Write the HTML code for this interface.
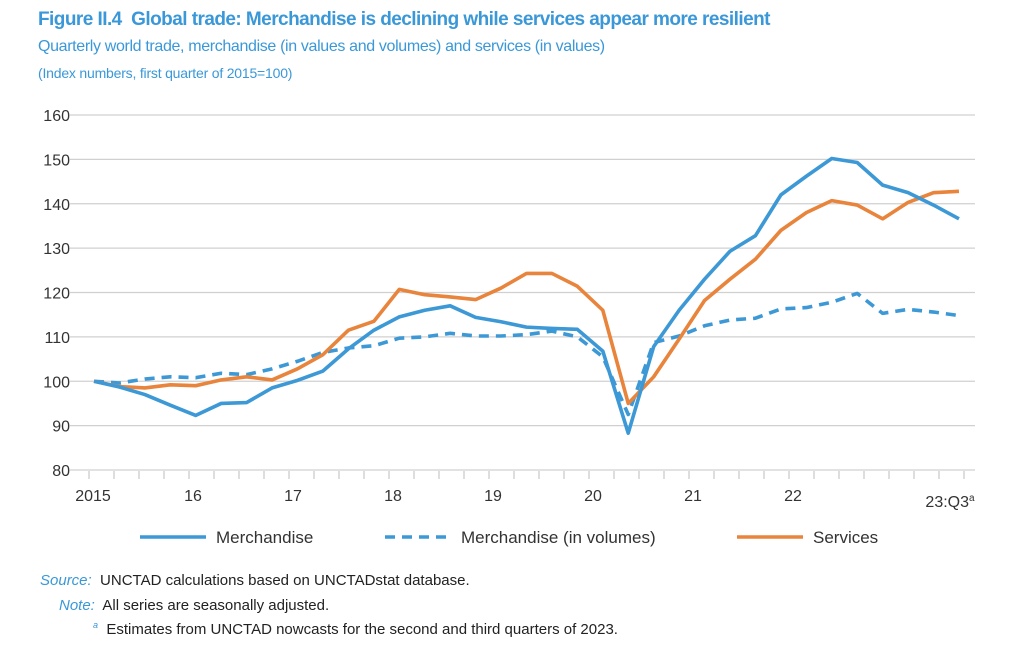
<!DOCTYPE html>
<html><head><meta charset="utf-8"><style>
body{margin:0;width:1036px;height:656px;background:#fff;font-family:"Liberation Sans",sans-serif;overflow:hidden;position:relative}
.t{position:absolute;white-space:nowrap}
</style></head><body>
<div class="t" style="left:38px;top:9px;font-size:19px;font-weight:bold;color:#3a98d8;letter-spacing:-0.55px">Figure II.4&nbsp; Global trade: Merchandise is declining while services appear more resilient</div>
<div class="t" style="left:38px;top:38px;font-size:16px;color:#3a98d8;letter-spacing:-0.35px">Quarterly world trade, merchandise (in values and volumes) and services (in values)</div>
<div class="t" style="left:38px;top:65px;font-size:14px;color:#3a98d8;letter-spacing:-0.2px">(Index numbers, first quarter of 2015=100)</div>
<svg id="chart" width="1036" height="560" style="position:absolute;left:0;top:0"></svg>
<div class="t" style="left:40px;top:572px;font-size:15px;color:#222"><i style="color:#3a98d8">Source:</i>&nbsp; UNCTAD calculations based on UNCTADstat database.</div>
<div class="t" style="left:59px;top:597px;font-size:15px;color:#222"><i style="color:#3a98d8">Note:</i>&nbsp; All series are seasonally adjusted.</div>
<div class="t" style="left:93px;top:620px;font-size:15px;color:#222"><sup style="font-size:9px;color:#3a98d8;font-style:italic">a</sup>&nbsp; Estimates from UNCTAD nowcasts for the second and third quarters of 2023.</div>
<script>
const yTicks=[80,90,100,110,120,130,140,150,160];
const xLabels=["2015","16","17","18","19","20","21","22"];
const merch=[100,98.7,97,94.6,92.3,95,95.2,98.5,100.2,102.3,107.3,111.5,114.5,116,117,114.4,113.4,112.2,111.9,111.7,106.8,88.3,107.8,116,123,129.3,132.8,142,146.2,150.2,149.3,144.2,142.5,139.7,136.6];
const volumes=[100,99.6,100.5,101,100.8,101.8,101.5,102.8,104.5,106.5,107.5,108,109.7,110,110.8,110.2,110.2,110.5,111.3,110,105.5,92.5,108.7,110.2,112.5,113.8,114.2,116.3,116.6,117.8,119.8,115.3,116.2,115.6,114.8];
const services=[100,98.8,98.5,99.2,99,100.3,101,100.3,102.8,106,111.5,113.5,120.7,119.5,119,118.4,121,124.3,124.3,121.4,116,95,101,109.5,118.2,123,127.5,134,138,140.7,139.7,136.6,140.3,142.5,142.8];
const svg=document.getElementById('chart');const NS="http://www.w3.org/2000/svg";
const X0=94,DX=25.44,Y80=470,PY=4.4375;
const x=i=>X0+DX*i, y=v=>Y80-(v-80)*PY;
function mk(t,a){const e=document.createElementNS(NS,t);for(const k in a)e.setAttribute(k,a[k]);svg.appendChild(e);return e;}
yTicks.forEach(v=>{
 const g=mk('line',{x1:70,x2:975,y1:y(v),y2:y(v),stroke:'#d0d0d0','stroke-width':1.3});
 
 
 const t=mk('text',{x:70,y:y(v)+6,'text-anchor':'end','font-size':16,fill:'#333','font-family':'Liberation Sans'});t.textContent=v;
 
 
});
for(let k=0;k<36;k++){const tx=89+25*k;const tk=mk('line',{x1:tx,x2:tx,y1:471,y2:479,stroke:'#ccc','stroke-width':1.3});
 
 }
xLabels.forEach((l,j)=>{const t=mk('text',{x:93+100*j,y:501,'text-anchor':'middle','font-size':16,fill:'#333','font-family':'Liberation Sans'});t.textContent=l;
 
 });
const q=mk('text',{x:950,y:507,'text-anchor':'middle','font-size':16,fill:'#333','font-family':'Liberation Sans'});q.innerHTML='23:Q3<tspan font-size="10" dy="-6">a</tspan>';


function line(d,c,dash,name){const p=mk('polyline',{points:d.map((v,i)=>x(i)+','+y(v)).join(' '),fill:'none',stroke:c,'stroke-width':3.6,'stroke-linejoin':'round','stroke-dasharray':dash||''});
 
 }
line(volumes,'#3d98d6','10 7','volumes-line');
line(services,'#e8843b','','services-line');
line(merch,'#3d98d6','','merchandise-line');
const leg=[[140,'Merchandise','#3d98d6',''],[385,'Merchandise (in volumes)','#3d98d6','10 7'],[737,'Services','#e8843b','']];
leg.forEach(([lx,n,c,d])=>{const l=mk('line',{x1:lx,x2:lx+66,y1:537,y2:537,stroke:c,'stroke-width':3.6,'stroke-dasharray':d});
 
 
 const t=mk('text',{x:lx+76,y:543,'font-size':17,fill:'#333','font-family':'Liberation Sans'});t.textContent=n;
 
 });
</script>
</body></html>
